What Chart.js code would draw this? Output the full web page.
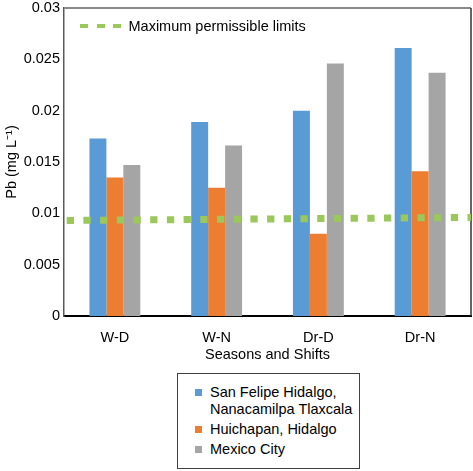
<!DOCTYPE html>
<html>
<head>
<meta charset="utf-8">
<script src="https://cdn.jsdelivr.net/npm/chart.js@4.4.1/dist/chart.umd.min.js"></script>
<style>
  body { margin: 0; background: #fff; font-family: 'Liberation Sans', Arial, sans-serif; }
  #wrap { position: relative; width: 473px; height: 471px; }
  #chartBox { position: absolute; left: 0; top: 0; width: 473px; height: 372px; }
  #limitLegend { position: absolute; left: 80px; top: 17px; font-size: 14.5px; line-height: 18px; color: #000; display: flex; align-items: center; }
  #limitLegend .dash { display: inline-block; width: 8px; height: 4px; margin-right: 8.5px; }
  #limitLegend .txt { margin-left: -1px; }
  #seriesLegend { position: absolute; left: 177px; top: 373px; width: 183px; height: 96px; box-sizing: border-box;
    border: 1px solid #404040; padding: 10px 0 0 17px; font-size: 14.5px; line-height: 17px; color: #000; }
  #seriesLegend .item { display: flex; margin-bottom: 3px; }
  #seriesLegend .sw { flex: none; width: 7px; height: 7px; margin: 5px 8px 0 0; }
</style>
</head>
<body>
<div id="wrap">
  <div id="chartBox"><canvas id="pbChart"></canvas></div>
  <div id="limitLegend"></div>
  <div id="seriesLegend"></div>
</div>
<script>
// values (Pb, mg/L)
const categories = ['W-D', 'W-N', 'Dr-D', 'Dr-N'];
const seriesNames = ['San Felipe Hidalgo, Nanacamilpa Tlaxcala', 'Huichapan, Hidalgo', 'Mexico City'];
const sanFelipe = [0.0173, 0.0189, 0.0200, 0.0261];
const huichapan = [0.0135, 0.0125, 0.0080, 0.0141];
const mexicoCity = [0.0147, 0.0166, 0.0246, 0.0237];
const limitName = 'Maximum permissible limits';
const limitX = [0, 1];
const limitY = [0.0093, 0.0096];
const yTickLabels = ['0', '0.005', '0.01', '0.015', '0.02', '0.025', '0.03'];

const colors = ['#5b9bd5', '#ed7d31', '#a5a5a5'];
const limitColor = '#9bc85a';
const font = { family: "'Liberation Sans', Arial, sans-serif", size: 14.5 };

// top and right edges of the plot frame
const framePlugin = {
    id: 'frame',
    beforeDatasetsDraw(chart) {
        const { ctx, chartArea: a } = chart;
        ctx.save();
        ctx.lineWidth = 2;
        ctx.strokeStyle = '#8a8a8a';
        ctx.beginPath();
        ctx.moveTo(a.left, a.top);
        ctx.lineTo(a.right, a.top);
        ctx.stroke();
        ctx.lineWidth = 1.5;
        ctx.strokeStyle = '#333';
        ctx.beginPath();
        ctx.moveTo(a.right, a.top);
        ctx.lineTo(a.right, a.bottom);
        ctx.stroke();
        ctx.restore();
    }
};

// line first so it is drawn on top of the bars
const datasets = [{
    type: 'line',
    indexAxis: 'x',
    label: limitName,
    data: limitX.map((x, i) => ({ x: x, y: limitY[i] })),
    xAxisID: 'xLine',
    borderColor: limitColor,
    borderWidth: 7,
    borderDash: [7.3, 9.4],
    borderDashOffset: 14,
    borderCapStyle: 'butt',
    pointRadius: 0,
    fill: false
}];
[sanFelipe, huichapan, mexicoCity].forEach((vals, i) => {
    datasets.push({
        indexAxis: 'x',
        label: seriesNames[i],
        data: vals,
        backgroundColor: colors[i],
        borderWidth: 0
    });
});

new Chart(document.getElementById('pbChart'), {
    type: 'bar',
    data: { labels: categories, datasets: datasets },
    options: {
        // chart-level 'y' keeps the hidden line axis from being counted as a second bar group
        indexAxis: 'y',
        responsive: true,
        maintainAspectRatio: false,
        animation: false,
        categoryPercentage: 0.5,
        barPercentage: 1.0,
        layout: { padding: { left: 0, right: 2, top: 8, bottom: 0 } },
        plugins: { legend: { display: false }, tooltip: { enabled: false } },
        scales: {
            x: {
                type: 'category',
                offset: true,
                grid: { display: false, drawTicks: false },
                border: { display: true, color: '#000', width: 2 },
                ticks: { color: '#000', font: font, padding: 13 },
                title: { display: true, text: 'Seasons and Shifts', color: '#000', font: font, padding: { top: 0, bottom: 8 } },
                afterFit(s) { s.height = 56; }
            },
            xLine: { type: 'linear', min: 0, max: 1, offset: false, display: false },
            y: {
                type: 'linear',
                min: 0,
                max: 0.03,
                offset: false,
                grid: { display: false, drawTicks: false },
                border: { display: true, color: '#595959', width: 1.5 },
                ticks: {
                    stepSize: 0.005,
                    padding: 4,
                    color: '#000',
                    font: font,
                    callback: (v, i) => yTickLabels[i] ?? v
                },
                title: { display: true, text: 'Pb (mg L⁻¹)', color: '#000', font: font, padding: { top: 3.5, bottom: 0 } },
                afterFit(s) {
                    s.width = 64;
                    s.paddingTop = 0;
                    s.paddingBottom = 0;
                }
            }
        }
    },
    plugins: [framePlugin]
});

// legends
const limitLegend = document.getElementById('limitLegend');
for (let k = 0; k < 3; k++) {
    const d = document.createElement('span');
    d.className = 'dash';
    d.style.background = limitColor;
    limitLegend.appendChild(d);
}
const lt = document.createElement('span');
lt.className = 'txt';
lt.textContent = limitName;
limitLegend.appendChild(lt);

const seriesLegend = document.getElementById('seriesLegend');
seriesNames.forEach((name, i) => {
    const item = document.createElement('div');
    item.className = 'item';
    const sw = document.createElement('span');
    sw.className = 'sw';
    sw.style.background = colors[i];
    const txt = document.createElement('span');
    txt.textContent = name;
    item.appendChild(sw);
    item.appendChild(txt);
    seriesLegend.appendChild(item);
});
</script>
</body>
</html>
